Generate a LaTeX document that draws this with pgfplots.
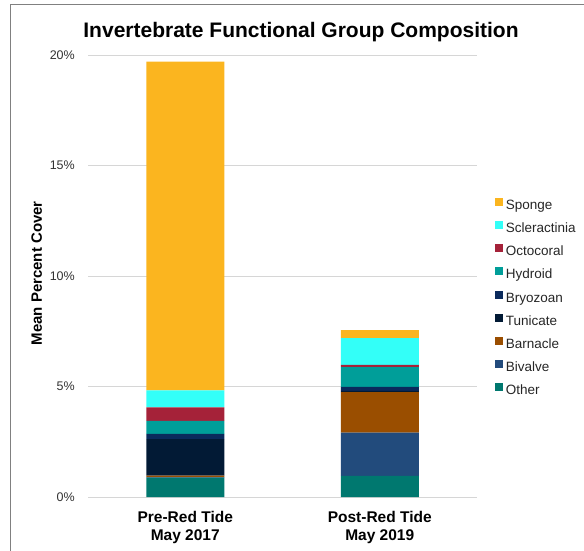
\documentclass[border=0pt]{standalone}
\usepackage{pgfplots}
\pgfplotsset{compat=1.18}
\usepackage{fontspec}
\setmainfont{Liberation Sans}

\definecolor{cSponge}{HTML}{FBB51F}
\definecolor{cScler}{HTML}{33FFF8}
\definecolor{cOcto}{HTML}{A52239}
\definecolor{cHydroid}{HTML}{009E99}
\definecolor{cBryo}{HTML}{0A2A5C}
\definecolor{cTunic}{HTML}{021A35}
\definecolor{cBarn}{HTML}{9A4E00}
\definecolor{cBival}{HTML}{224B7C}
\definecolor{cOther}{HTML}{00786F}

\pgfplotsset{
  grp/.style={fill=#1, draw=none,
    legend image code/.code={\fill[##1] (0pt,0pt) rectangle (8pt,8pt);}},
}

\begin{document}
\begin{tikzpicture}[x=1pt,y=1pt]
\useasboundingbox (0,0) rectangle (584,550);
% outer frame
\draw[color=black!50, line width=1.3pt] (10.5,-2) -- (10.5,545.3) -- (586,545.3);
% title
\node[anchor=base, font=\bfseries\fontsize{21}{24}\selectfont] at (301,512.5)
  {Invertebrate Functional Group Composition};
% y axis title
\node[rotate=90, font=\bfseries\fontsize{15}{18}\selectfont] at (36.7,276.7)
  {Mean Percent Cover};

\begin{axis}[
  at={(88pt,53pt)}, anchor=south west,
  scale only axis, width=389pt, height=442pt,
  xmin=-0.5, xmax=1.5, ymin=0, ymax=20,
  ybar stacked, bar width=78pt,
  xtick={0,1},
  xticklabels={{Pre-Red Tide\\May 2017},{Post-Red Tide\\May 2019}},
  xticklabel style={align=center, inner sep=0pt, yshift=-14pt,
    font=\bfseries\fontsize{15.5}{18}\selectfont},
  ytick={0,5,10,15,20},
  yticklabels={0\%,5\%,10\%,15\%,20\%},
  yticklabel style={inner sep=0pt, xshift=-13pt, text=black!80,
    font=\fontsize{12.5}{15}\selectfont},
  axis line style={draw=none},
  major tick length=0pt,
  ymajorgrids,
  grid style={color=black!16, line width=0.9pt},
  legend cell align=left,
  reverse legend,
  legend style={at={(1.0455,0.6772)}, anchor=north west, draw=none, fill=none,
    inner sep=0pt, row sep=8.7pt, column sep=3pt, text=black!85,
    font=\fontsize{13.5}{16}\selectfont,
    nodes={inner sep=0pt, text height=10pt, text depth=3pt}},
]
\addplot[grp=cOther]   coordinates {(0,0.88) (1,0.96)};
\addlegendentry{Other}
\addplot[grp=cBival]   coordinates {(0,0.02) (1,1.95)};
\addlegendentry{Bivalve}
\addplot[grp=cBarn]    coordinates {(0,0.07) (1,1.83)};
\addlegendentry{Barnacle}
\addplot[grp=cTunic]   coordinates {(0,1.65) (1,0.06)};
\addlegendentry{Tunicate}
\addplot[grp=cBryo]    coordinates {(0,0.24) (1,0.18)};
\addlegendentry{Bryozoan}
\addplot[grp=cHydroid] coordinates {(0,0.59) (1,0.90)};
\addlegendentry{Hydroid}
\addplot[grp=cOcto]    coordinates {(0,0.60) (1,0.10)};
\addlegendentry{Octocoral}
\addplot[grp=cScler]   coordinates {(0,0.77) (1,1.21)};
\addlegendentry{Scleractinia}
\addplot[grp=cSponge]  coordinates {(0,14.88) (1,0.36)};
\addlegendentry{Sponge}
\end{axis}
\end{tikzpicture}
\end{document}
